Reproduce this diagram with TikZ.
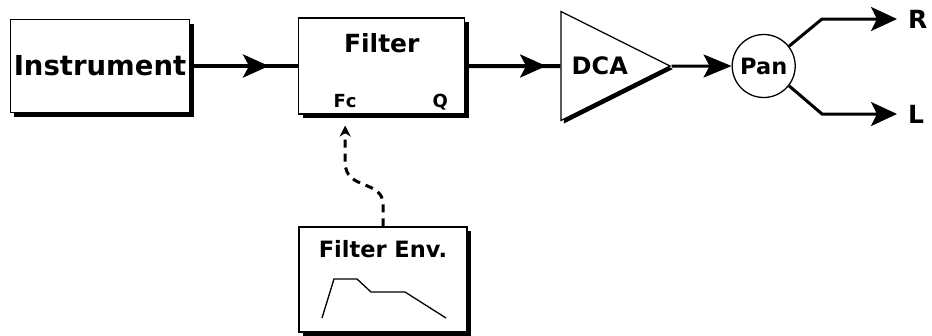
\documentclass[tikz,border=0pt]{standalone}
\usepackage{fontspec}
\setmainfont{DejaVu Sans}
\usepackage{tikz}
\usetikzlibrary{arrows.meta,positioning,calc,shapes.geometric,shadows,decorations.markings}

\begin{document}
\begin{tikzpicture}[
    x=1pt, y=-1pt,
    bigfont/.style={font=\fontsize{25pt}{28pt}\selectfont\bfseries},
    midfont/.style={font=\fontsize{22.5pt}{24pt}\selectfont\bfseries},
    block/.style={rectangle, draw, line width=1.2pt, fill=white, minimum width=176pt, minimum height=93pt, drop shadow={shadow xshift=4pt, shadow yshift=-4pt, opacity=1, fill=black}},
    amp/.style={isosceles triangle, isosceles triangle stretches, draw, line width=1.2pt, fill=white, minimum width=109pt, minimum height=109pt, inner sep=0pt, midfont, drop shadow={shadow xshift=3pt, shadow yshift=-3pt, opacity=1, fill=black}},
    mixer/.style={circle, draw, line width=1.3pt, fill=white, minimum size=63pt, inner sep=0pt, midfont},
    port/.style={font=\fontsize{18pt}{20pt}\selectfont\bfseries, inner sep=0pt},
    outlabel/.style={font=\fontsize{25pt}{27pt}\selectfont\bfseries, inner sep=0pt},
    flow/.style={line width=4pt},
    thinflow/.style={line width=3pt},
    midarrow/.style={postaction={decorate}, decoration={markings, mark=at position #1 with {\arrow{Stealth[length=26pt, width=23pt, inset=6pt]}}}},
    outarrow/.style={-{Stealth[length=26pt, width=24pt, inset=6pt]}, shorten >=11pt},
    ctrl/.style={line width=3pt, dash pattern=on 8pt off 6pt, -{Stealth[length=11pt, width=11pt]}},
    envline/.style={line width=1.3pt},
]
\useasboundingbox (0,0) rectangle (932,335);

% === SIGNAL CHAIN ===
\node[block, font=\fontsize{27.5pt}{30pt}\selectfont\bfseries] (instrument) at (100,66) {Instrument};
\node[block, minimum width=166pt, minimum height=96pt, right=108pt of instrument] (filter) {};
\node[bigfont, anchor=north, inner sep=0pt] (filtertitle) at ([yshift=-16pt]filter.north) {Filter};
\node[port, anchor=base] (fc) at ($(filter.south west)+(47,-7)$) {Fc};
\node[port, anchor=base] (q) at ($(filter.south east)+(-25,-7)$) {Q};
\node[amp, font=\fontsize{24pt}{26pt}\selectfont\bfseries, right=95pt of filter] (dca) {DCA};
\node[mixer, right=60pt of dca] (pan) {Pan};
\node[outlabel, anchor=west] (R) at (908,19) {R};
\node[outlabel, anchor=west] (L) at (908,114) {L};

% === FILTER ENVELOPE ===
\node[block, minimum width=168pt, minimum height=105pt] (envbox) at (383,279.5) {};
\node[font=\fontsize{22.5pt}{24pt}\selectfont\bfseries, anchor=north, inner sep=0pt] (envtitle) at ([yshift=-14pt]envbox.north) {Filter Env.};
\draw[envline, shift={(envbox.center)}] (-61,38.5) -- (-49,-0.5) -- (-26,-0.5) -- (-12,12.5) -- (22,12.5) -- (63,38.5);

% === CONNECTORS ===
\draw[flow, midarrow=0.73] (instrument) -- (filter);
\draw[flow, midarrow=0.85] (filter) -- (dca);
\draw[thinflow, -{Stealth[length=28pt, width=23pt, inset=6pt]}] (dca) -- (pan);
\draw[thinflow, outarrow] (pan.38) -- ([xshift=-86pt]R.west) -- (R.west);
\draw[thinflow, outarrow] (pan.-38) -- ([xshift=-86pt]L.west) -- (L.west);
\coordinate (fcport) at ($(filter.south -| fc)+(0,11)$);
\draw[ctrl] (envbox.north) -- ++(0,-22) .. controls +(0,-25) and +(0,28) .. ([yshift=-37pt]fcport) -- (fcport);

\end{tikzpicture}
\end{document}
